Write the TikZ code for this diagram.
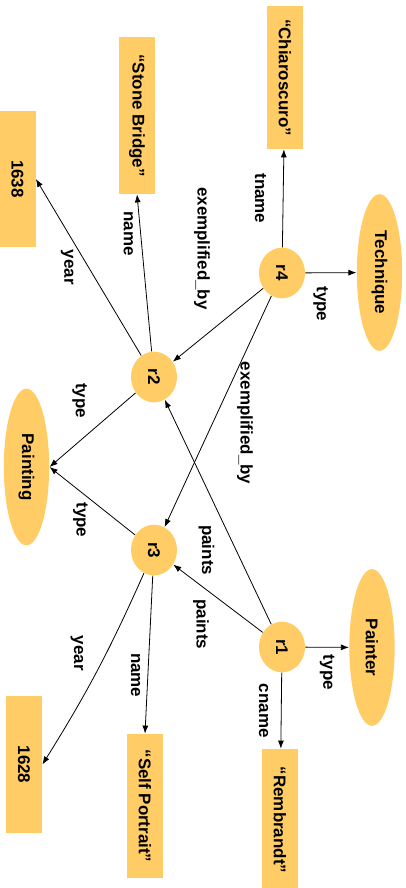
\documentclass[tikz,border=0pt]{standalone}
\usepackage{fontspec}
\setmainfont{Liberation Sans}
\usepackage{tikz}
\usetikzlibrary{positioning,arrows.meta,shapes.geometric}
\definecolor{rdfyellow}{RGB}{255,204,102}

\begin{document}
\begin{tikzpicture}
    [rotate=-90, transform shape, x=0.75pt, y=0.75pt, semithick,
     every node/.style={font=\bfseries\fontsize{12.7}{15}\selectfont, inner sep=1pt},
     res/.style={ellipse,fill=rdfyellow,minimum width=38pt,minimum height=34.5pt,inner sep=0pt},
     cls/.style={ellipse,fill=rdfyellow,minimum width=117.5pt,minimum height=34pt},
     lit/.style={rectangle,fill=rdfyellow,minimum width=102pt,minimum height=27pt},
     >={Latex[length=6pt,width=4.5pt]}]

    \useasboundingbox (0,0) rectangle (888,406);

    % literal values
    \node[lit, minimum width=107.25pt] (chiaroscuro) at (77.5,285) {“Chiaroscuro”};
    \node[lit, minimum width=117.75pt] (stonebridge) at (115.5,137) {“Stone Bridge”};
    \node[lit] (year1638) at (179,17.5) {1638};
    \node[lit, minimum width=102.75pt] (year1628) at (764.5,24) {1628};
    \node[lit, minimum width=108pt] (selfportrait) at (806,145) {“Self Portrait”};
    \node[lit, minimum width=106.5pt] (rembrandt) at (820,280) {“Rembrandt”};

    % classes
    \node[cls] (technique) at (272.5,379.5) {Technique};
    \node[cls] (painting) at (467,26.5) {Painting};
    \node[cls] (painter) at (647.5,372) {Painter};

    % resources
    \node[res] (r2) at (377,154) {r2}
      edge [->] node [below=10pt] {year} (year1638.north)
      edge [->] node [below=4.5pt, pos=0.75] {name} (stonebridge.east)
      edge [->] node [left=16pt, pos=0.65] {type} (painting.north);

    \node[res] (r3) at (550,154) {r3}
      edge [->] node [right=7pt, pos=0.64] {type} (painting.north)
      edge [->, bend left=4] node [below=16pt, pos=0.4] {year} (year1628.north)
      edge [->] node [below=4.5pt, pos=0.63] {name} (selfportrait.west);

    \node[res] (r4) at (273,282) {r4}
      edge [->] node [below=11.5pt] {tname} (chiaroscuro)
      edge [->] node [right=9pt, pos=0.3] {type} (technique)
      edge [->] node [below left=15pt and 2pt, pos=0.35] {exemplified\_by} (r2)
      edge [->] node [above=17pt, pos=0.55] {exemplified\_by} (r3);

    \node[res] (r1) at (647,282) {r1}
      edge [->] node [below=15pt, pos=0.33] {paints} (r2)
      edge [->] node [right=9pt, pos=0.69] {paints} (r3)
      edge [->] node [right=4.5pt] {type} (painter)
      edge [->] node [below=8.5pt] {cname} (rembrandt);
\end{tikzpicture}
\end{document}
